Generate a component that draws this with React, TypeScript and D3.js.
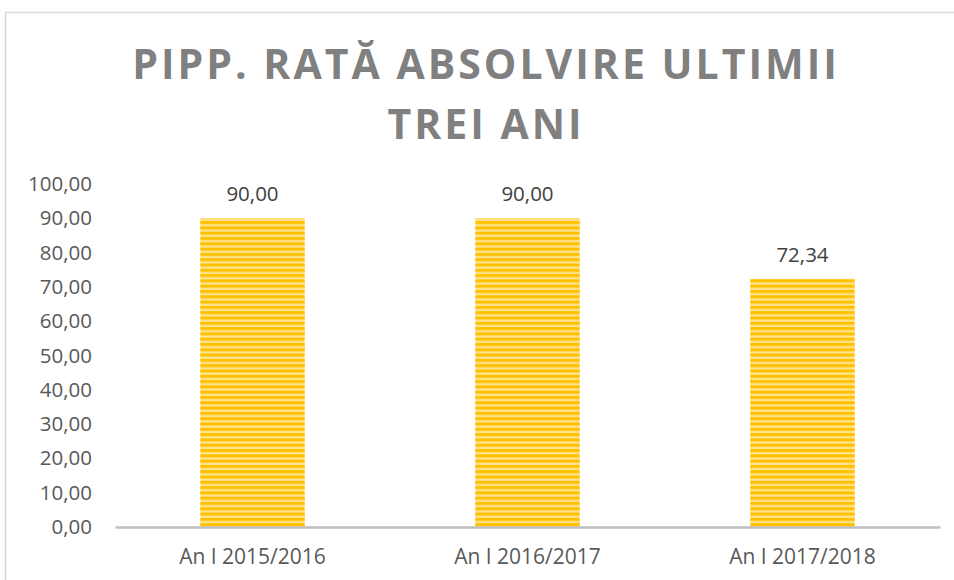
import React, { useRef, useEffect } from 'react';
import * as d3 from 'd3';

const categories = ['An I 2015/2016', 'An I 2016/2017', 'An I 2017/2018'];
const values = [90.0, 90.0, 72.34];
const yTicks = [0, 10, 20, 30, 40, 50, 60, 70, 80, 90, 100];
const titleLines = ['PIPP. RATĂ ABSOLVIRE ULTIMII', 'TREI ANI'];

const fmt = (v: number) => v.toFixed(2).replace('.', ',');

const App: React.FC = () => {
  const svgRef = useRef<SVGSVGElement>(null);

  useEffect(() => {
    if (!svgRef.current) return;
    const width = 954;
    const height = 580;
    const svg = d3.select(svgRef.current);
    svg.selectAll('*').remove();

    const margin = { top: 184, right: 14, bottom: 53, left: 115 };
    const innerWidth = width - margin.left - margin.right;
    const innerHeight = height - margin.top - margin.bottom;

    // striped fill pattern
    const defs = svg.append('defs');
    const pat = defs.append('pattern')
      .attr('id', 'stripes')
      .attr('patternUnits', 'userSpaceOnUse')
      .attr('width', 10)
      .attr('height', 5.3);
    pat.append('rect').attr('width', 10).attr('height', 5.3).attr('fill', '#FFE38F');
    pat.append('rect').attr('y', 0).attr('width', 10).attr('height', 3).attr('fill', '#FFC000');

    // chart border
    svg.append('rect')
      .attr('x', 5.5)
      .attr('y', 12.5)
      .attr('width', width + 10)
      .attr('height', height + 10)
      .attr('fill', 'white')
      .attr('stroke', '#D9D9D9')
      .attr('stroke-width', 1.5);

    // title
    svg.append('g')
      .selectAll('text')
      .data(titleLines)
      .enter().append('text')
      .attr('x', 486)
      .attr('y', (_d, i) => 79 + i * 60)
      .attr('text-anchor', 'middle')
      .style('font-family', '"Open Sans", sans-serif')
      .style('font-weight', 'bold')
      .style('font-size', '41px')
      .style('letter-spacing', '3px')
      .style('fill', '#808080')
      .text(d => d);

    const xScale = d3.scaleBand()
      .domain(categories)
      .range([0, innerWidth])
      .paddingInner(0.62)
      .paddingOuter(0.31);

    const yScale = d3.scaleLinear()
      .domain([0, 100])
      .range([innerHeight, 0]);

    const g = svg.append('g')
      .attr('transform', `translate(${margin.left},${margin.top})`);

    // Y axis labels
    const yAxis = g.append('g')
      .call(d3.axisLeft(yScale).tickValues(yTicks).tickSize(0).tickPadding(23).tickFormat(d => fmt(d as number)));
    yAxis.select('.domain').remove();
    yAxis.selectAll('text')
      .style('font-family', '"Open Sans", sans-serif')
      .style('font-size', '20.5px')
      .style('fill', '#595959');

    // bars
    g.selectAll('.bar')
      .data(values)
      .enter().append('rect')
      .attr('class', 'bar')
      .attr('x', (_d, i) => xScale(categories[i]) as number)
      .attr('width', xScale.bandwidth())
      .attr('y', d => yScale(d))
      .attr('height', d => innerHeight - yScale(d))
      .attr('fill', 'url(#stripes)');

    // value labels
    g.selectAll('.val')
      .data(values)
      .enter().append('text')
      .attr('class', 'val')
      .attr('x', (_d, i) => (xScale(categories[i]) as number) + xScale.bandwidth() / 2)
      .attr('y', d => yScale(d) - 17)
      .attr('text-anchor', 'middle')
      .style('font-family', '"Open Sans", sans-serif')
      .style('font-size', '20.5px')
      .style('fill', '#404040')
      .text(d => fmt(d));

    // X axis
    const xAxis = g.append('g')
      .attr('transform', `translate(0,${innerHeight})`)
      .call(d3.axisBottom(xScale).tickSize(0).tickPadding(22));
    xAxis.select('.domain').attr('stroke', '#BFBFBF').attr('stroke-width', 2.5);
    xAxis.selectAll('text')
      .style('font-family', '"Open Sans", sans-serif')
      .style('font-size', '21px')
      .style('fill', '#595959');
  }, []);

  return (
    <svg
      ref={svgRef}
      width={954}
      height={580}
      style={{ position: 'absolute', left: 0, top: 0 }}
    ></svg>
  );
};

export default App;
